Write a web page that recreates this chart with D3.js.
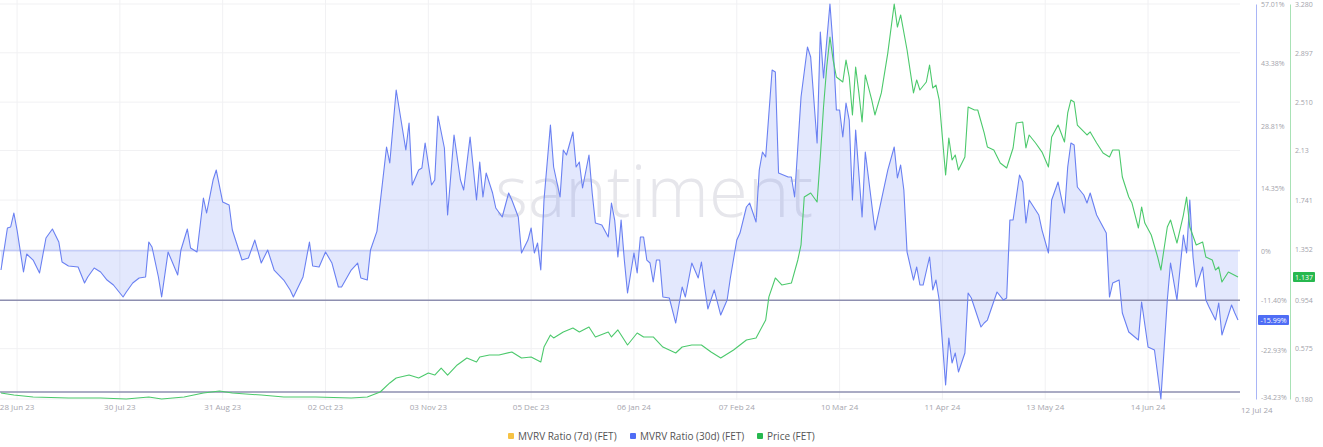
<!DOCTYPE html>
<html><head><meta charset="utf-8">
<script src="https://cdn.jsdelivr.net/npm/d3@7"></script>
<style>html,body{margin:0;padding:0;background:#fff;}svg{display:block;font-family:"Open Sans","Noto Sans",sans-serif;}</style>
</head><body>
<svg id="chart" width="1323" height="447"></svg>
<script>
const startDate = "2023-06-23";
const endDate = "2024-07-12";
const xTickDates = ["2023-06-28","2023-07-30","2023-08-31","2023-10-02","2023-11-03","2023-12-05","2024-01-06","2024-02-07","2024-03-10","2024-04-11","2024-05-13","2024-06-14","2024-07-12"];
const xTickLabels = ["28 Jun 23","30 Jul 23","31 Aug 23","02 Oct 23","03 Nov 23","05 Dec 23","06 Jan 24","07 Feb 24","10 Mar 24","11 Apr 24","13 May 24","14 Jun 24","12 Jul 24"];
const mvrvTicks = [57.01, 43.38, 28.81, 14.35, 0, -11.40, -22.93, -34.23];
const priceTickLabels = ["3.280","2.897","2.510","2.13","1.741","1.352","0.954","0.575","0.180"];
const refLines = [-11.40, -32.6];
const legendLabels = ["MVRV Ratio (7d) (FET)","MVRV Ratio (30d) (FET)","Price (FET)"];
const legendColors = ["#f6c244","#4f6df5","#27b84f"];

// days since startDate
const mvrvDays = [0,2,3,4,5,7,8,10,12,14,16,18,19,21,24,26,27,29,31,33,35,38,39,41,43,45,46,47,49,50,52,55,56,58,59,61,63,64,66,67,69,71,72,74,75,77,79,81,83,85,88,90,91,94,96,97,99,101,103,105,106,109,111,112,114,115,117,120,121,123,124,126,127,128,130,131,132,134,135,136,138,139,141,143,144,146,148,149,150,151,153,154,156,158,159,161,162,164,165,166,167,168,169,171,172,174,175,176,178,179,180,181,183,184,185,187,189,190,191,192,193,194,195,197,198,199,200,201,202,203,204,205,206,208,210,212,213,215,217,218,219,220,222,224,226,227,229,230,232,233,235,236,237,238,240,241,242,245,246,247,249,251,252,254,255,256,258,259,260,261,262,263,264,265,266,268,269,272,274,276,278,279,280,281,282,284,285,286,287,289,290,291,292,294,295,296,297,298,300,301,302,305,306,307,310,312,313,314,315,317,318,319,320,323,324,326,327,329,331,332,333,334,335,337,338,339,341,344,345,346,348,349,351,354,355,357,359,361,363,364,366,368,369,370,371,372,374,375,376,378,379,380,383,384,385];
const mvrv30d = [-4.44,5.27,5.50,8.73,4.80,-4.90,-0.74,-2.13,-5.13,2.96,5.03,2.03,-2.59,-3.51,-3.74,-7.44,-6.05,-3.97,-4.90,-6.75,-7.90,-10.67,-9.52,-7.44,-6.28,-6.05,2.03,0.88,-6.05,-10.67,-0.28,-5.59,0.18,5.03,0.65,-0.28,12.20,8.73,16.35,18.66,11.27,10.58,4.80,0.18,-2.13,-1.66,2.49,-2.82,0.18,-4.44,-6.75,-9.06,-10.67,-6.05,2.03,-3.51,-3.74,-0.28,-2.82,-8.36,-8.36,-4.44,-2.82,-6.28,-6.75,0.18,4.50,23.98,20.28,37.14,32.52,23.28,29.52,15.20,18.66,19.13,24.90,15.20,16.35,31.14,23.75,8.27,26.75,16.35,14.04,26.29,11.73,20.51,12.43,17.97,13.35,9.89,7.81,13.35,11.73,7.81,-0.51,2.49,5.27,-0.51,1.80,-4.44,11.73,29.06,19.36,12.43,23.28,22.13,27.44,19.36,20.51,14.51,22.13,13.35,6.42,5.96,3.19,11.04,7.11,-1.43,7.11,-2.13,-9.75,-0.51,-5.13,3.19,3.19,-2.13,-2.82,-7.21,-2.13,-2.13,-10.67,-10.90,-16.68,-8.36,-10.67,-2.82,-6.28,-2.59,-8.36,-13.45,-9.06,-14.83,-11.37,-6.28,2.49,4.11,10.12,11.04,6.65,18.66,22.82,21.67,41.76,41.30,17.97,17.05,17.05,12.43,35.53,47.08,44.77,24.90,50.54,39.92,57.01,47.08,32.52,32.52,26.29,34.14,30.21,11.73,27.90,7.81,22.82,4.80,11.73,18.66,23.98,16.82,19.82,14.04,-0.28,-6.75,-3.74,-7.90,-7.90,-1.43,-9.06,-6.75,-11.37,-31.00,-20.14,-25.92,-23.61,-27.99,-23.61,-9.75,-10.90,-17.60,-16.68,-15.99,-9.52,-11.37,-10.90,7.11,7.11,17.51,15.89,6.42,11.73,8.27,4.80,-0.51,11.73,15.89,8.73,19.36,24.90,24.44,14.74,12.89,11.04,13.35,8.27,4.11,-10.67,-7.44,-6.75,-14.37,-18.76,-20.61,-11.83,-22.22,-22.92,-34.23,-11.37,-2.82,-11.37,3.65,-0.51,11.73,-1.43,-8.36,-3.74,-11.37,-12.98,-15.99,-12.06,-19.45,-12.52,-14.37,-15.99];

const priceDays = [0,4,10,21,31,39,46,50,57,63,68,72,81,88,98,109,114,118,121,123,127,130,133,135,137,139,142,145,148,149,152,155,159,162,165,168,169,171,172,175,178,180,183,185,189,190,192,195,198,200,203,206,210,212,215,218,221,224,228,232,235,238,239,241,243,246,248,249,250,252,254,255,256,257,258,259,260,262,263,264,265,266,267,268,269,271,272,274,276,278,279,280,282,284,285,286,288,289,290,291,292,294,295,296,297,298,300,301,303,304,306,307,309,311,313,315,316,318,319,320,322,324,326,327,329,331,332,333,334,335,338,339,341,343,345,346,348,349,351,352,354,355,356,358,360,361,363,364,366,368,369,370,372,374,375,377,378,379,380,382,385];
const priceFET = [0.227,0.211,0.196,0.188,0.188,0.180,0.196,0.180,0.196,0.227,0.243,0.227,0.211,0.196,0.196,0.188,0.196,0.235,0.306,0.345,0.368,0.345,0.384,0.368,0.423,0.368,0.447,0.502,0.470,0.510,0.525,0.525,0.549,0.502,0.510,0.470,0.588,0.682,0.659,0.706,0.737,0.706,0.745,0.667,0.706,0.667,0.722,0.604,0.698,0.667,0.667,0.588,0.541,0.588,0.604,0.604,0.549,0.502,0.565,0.643,0.659,0.800,0.981,1.130,1.075,1.090,1.271,1.389,1.765,1.797,1.726,2.079,2.472,2.786,3.021,2.840,2.707,2.668,2.840,2.707,2.409,2.786,2.582,2.354,2.723,2.527,2.409,2.582,2.895,3.280,3.099,3.194,2.919,2.582,2.684,2.605,2.668,2.801,2.621,2.644,2.527,1.938,2.228,2.056,2.095,1.977,2.079,2.472,2.448,2.448,2.268,2.158,2.134,2.032,1.993,2.150,2.346,2.354,2.150,2.252,2.189,2.118,2.001,2.236,2.330,2.197,2.425,2.527,2.511,2.330,2.252,2.276,2.189,2.111,2.079,2.134,2.134,1.922,1.765,1.718,1.522,1.687,1.561,1.467,1.294,1.192,1.530,1.585,1.404,1.624,1.765,1.530,1.389,1.412,1.294,1.271,1.192,1.216,1.098,1.177,1.137];

const svg = d3.select("#chart");
const parse = d3.utcParse("%Y-%m-%d");
const t0 = parse(startDate);
const dayToDate = d => d3.utcDay.offset(t0, d);

const x = d3.scaleUtc().domain([t0, parse(endDate)]).range([1, 1238]);
const yM = d3.scaleLinear().domain([d3.min(mvrvTicks), d3.max(mvrvTicks)]).range([399, 4]);
const priceVals = priceTickLabels.map(Number);
const yP = d3.scaleLinear().domain([d3.min(priceVals), d3.max(priceVals)]).range([399, 4]);

const mvrvData = mvrvDays.map((d,i)=>({date: dayToDate(d), v: mvrv30d[i]}));
const priceData = priceDays.map((d,i)=>({date: dayToDate(d), v: priceFET[i]}));

// grid
const grid = svg.append("g");
grid.selectAll("line.h").data(priceVals).enter().append("line")
  .attr("x1",0).attr("x2",1240).attr("y1",d=>yP(d)).attr("y2",d=>yP(d))
  .attr("stroke","#f1f1f3").attr("stroke-width",1);
grid.selectAll("line.v").data(xTickDates.slice(0,-1)).enter().append("line")
  .attr("x1",d=>x(parse(d))).attr("x2",d=>x(parse(d))).attr("y1",0).attr("y2",400)
  .attr("stroke","#f1f1f3").attr("stroke-width",1);

// watermark
svg.append("text").attr("x",495).attr("y",217).attr("font-size",72).attr("font-weight",300)
  .attr("fill","#e6e6eb").attr("textLength",318).attr("lengthAdjust","spacingAndGlyphs")
  .text("santiment");

// MVRV area + line
const area = d3.area().x(d=>x(d.date)).y0(yM(0)).y1(d=>yM(d.v));
svg.append("path").datum(mvrvData).attr("d",area).attr("fill","#5b74f3").attr("fill-opacity",0.17);
// zero line and ref lines
svg.append("line").attr("x1",0).attr("x2",1240).attr("y1",yM(0)).attr("y2",yM(0))
  .attr("stroke","#b3bdf6").attr("stroke-width",1);
svg.selectAll("line.ref").data(refLines).enter().append("line")
  .attr("x1",0).attr("x2",1240).attr("y1",d=>yM(d)).attr("y2",d=>yM(d))
  .attr("stroke","#8e8fb0").attr("stroke-width",1.5);

const lineM = d3.line().x(d=>x(d.date)).y(d=>yM(d.v));
svg.append("path").datum(mvrvData).attr("d",lineM).attr("fill","none")
  .attr("stroke","#6a80f2").attr("stroke-width",1.1).attr("stroke-linejoin","round");

const lineP = d3.line().x(d=>x(d.date)).y(d=>yP(d.v));
svg.append("path").datum(priceData).attr("d",lineP).attr("fill","none")
  .attr("stroke","#4cc96c").attr("stroke-width",1.1).attr("stroke-linejoin","round");

// x axis labels
const xl = svg.append("g").attr("font-size",8).attr("fill","#a6a6ae");
xTickDates.forEach((d,i)=>{
  const last = i === xTickDates.length-1;
  xl.append("text").attr("x", last ? x(parse(d))+3 : x(parse(d))).attr("y", last ? 413 : 410)
    .attr("text-anchor", last ? "start" : "middle").text(xTickLabels[i]);
});

// right axes
const axM = d3.axisRight(yM).tickValues(mvrvTicks).tickSize(0).tickSizeOuter(0).tickPadding(5)
  .tickFormat(d => d===0 ? "0%" : d.toFixed(2)+"%");
const gM = svg.append("g").attr("transform","translate(1256,0)").call(axM);
gM.select(".domain").attr("stroke","#a9b5f6");
gM.selectAll("text").attr("font-size",7).attr("fill","#a3a3ab").attr("font-family","Open Sans, sans-serif");
gM.selectAll(".tick").filter(d => d === d3.min(mvrvTicks)).select("text").attr("dy","0.1em");

const axP = d3.axisRight(yP).tickValues(priceVals).tickSize(0).tickSizeOuter(0).tickPadding(5)
  .tickFormat((d,i)=>priceTickLabels[i]);
const gP = svg.append("g").attr("transform","translate(1290,0)").call(axP);
gP.select(".domain").attr("stroke","#a8e2b5");
gP.selectAll("text").attr("font-size",7).attr("fill","#a3a3ab").attr("font-family","Open Sans, sans-serif");

// badges
const lastM = mvrvData[mvrvData.length-1].v;
const bM = svg.append("g").attr("transform",`translate(1258,${yM(lastM)})`);
bM.append("rect").attr("x",0).attr("y",-5).attr("width",31).attr("height",10).attr("fill","#4f6df5").attr("rx",1);
bM.append("text").attr("x",15.5).attr("y",2.5).attr("text-anchor","middle").attr("font-size",7).attr("fill","#fff").text(lastM.toFixed(2)+"%");
const lastP = priceData[priceData.length-1].v;
const bP = svg.append("g").attr("transform",`translate(1293,${yP(lastP)})`);
bP.append("rect").attr("x",0).attr("y",-5).attr("width",22).attr("height",10).attr("fill","#27b84f").attr("rx",1);
bP.append("text").attr("x",11).attr("y",2.5).attr("text-anchor","middle").attr("font-size",7).attr("fill","#fff").text(lastP.toFixed(3));

// legend
const legX = [508, 630, 757];
const lg = svg.append("g").attr("font-size",10).attr("fill","#555");
legendLabels.forEach((l,i)=>{
  lg.append("rect").attr("x",legX[i]).attr("y",433).attr("width",6).attr("height",6).attr("fill",legendColors[i]).attr("rx",1);
  lg.append("text").attr("x",legX[i]+10).attr("y",439.5).text(l);
});
</script>
</body></html>
